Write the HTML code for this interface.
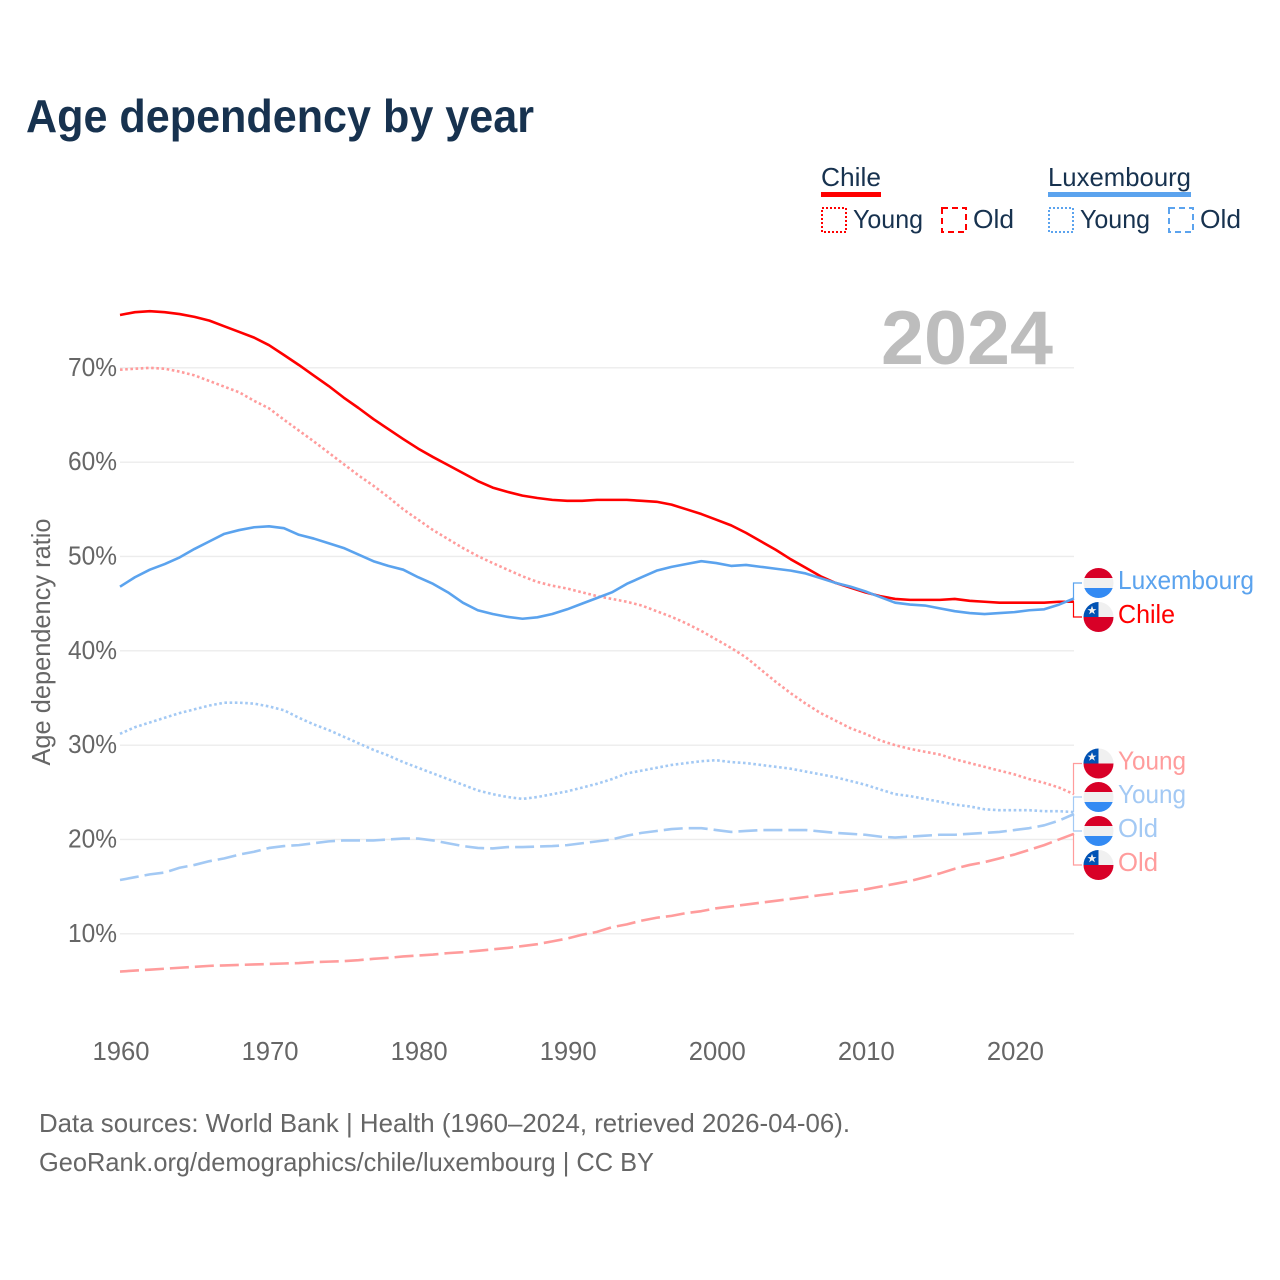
<!DOCTYPE html>
<html lang="en">
<head>
<meta charset="utf-8">
<title>Age dependency by year</title>
<style>
html,body{margin:0;padding:0;background:#fff}
svg{display:block}
text{font-family:"Liberation Sans",sans-serif}
</style>
</head>
<body>
<svg id="chart" xmlns="http://www.w3.org/2000/svg" width="1280" height="1280" viewBox="0 0 1280 1280">
  <rect x="0" y="0" width="1280" height="1280" fill="#ffffff"/>
  <text x="26" y="132" font-size="46" font-weight="700" fill="#17324f" textLength="508" lengthAdjust="spacingAndGlyphs">Age dependency by year</text>

  <g>
    <text x="821" y="186" font-size="26" fill="#17324f" textLength="60" lengthAdjust="spacingAndGlyphs">Chile</text>
    <rect x="821" y="192" width="60" height="5" fill="#ff0000"/>
    <rect x="822" y="208" width="24" height="24" fill="none" stroke="#ff0000" stroke-width="2" stroke-dasharray="2 2"/>
    <text x="853" y="228" font-size="26" fill="#17324f" textLength="70" lengthAdjust="spacingAndGlyphs">Young</text>
    <rect x="942" y="208" width="24" height="24" fill="none" stroke="#ff0000" stroke-width="2" stroke-dasharray="6 4"/>
    <text x="973" y="228" font-size="26" fill="#17324f" textLength="41" lengthAdjust="spacingAndGlyphs">Old</text>

    <text x="1048" y="186" font-size="26" fill="#17324f" textLength="143" lengthAdjust="spacingAndGlyphs">Luxembourg</text>
    <rect x="1048" y="192" width="143" height="5" fill="#5ba3ee"/>
    <rect x="1049" y="208" width="24" height="24" fill="none" stroke="#5ba3ee" stroke-width="2" stroke-dasharray="2 2"/>
    <text x="1080" y="228" font-size="26" fill="#17324f" textLength="70" lengthAdjust="spacingAndGlyphs">Young</text>
    <rect x="1169" y="208" width="24" height="24" fill="none" stroke="#5ba3ee" stroke-width="2" stroke-dasharray="6 4"/>
    <text x="1200" y="228" font-size="26" fill="#17324f" textLength="41" lengthAdjust="spacingAndGlyphs">Old</text>
  </g>

  <text transform="translate(50 642) rotate(-90)" text-anchor="middle" font-size="26" fill="#666666" textLength="247" lengthAdjust="spacingAndGlyphs">Age dependency ratio</text>

  <g id="grid"></g>
  <g id="yticks"></g>
  <g id="xticks"></g>
  <text id="year" x="1053" y="364" text-anchor="end" font-size="76" font-weight="700" fill="#bdbdbd" textLength="172" lengthAdjust="spacingAndGlyphs"></text>
  <g id="series"></g>
  <g id="connectors"></g>
  <g id="labels"></g>

  <text x="39" y="1132" font-size="26" fill="#666666" textLength="811" lengthAdjust="spacingAndGlyphs">Data sources: World Bank | Health (1960–2024, retrieved 2026-04-06).</text>
  <text x="39" y="1171" font-size="26" fill="#666666" textLength="615" lengthAdjust="spacingAndGlyphs">GeoRank.org/demographics/chile/luxembourg | CC BY</text>
</svg>
<script>
const startYear = 1960;
const endYear = 2024;
const yTicks = [10, 20, 30, 40, 50, 60, 70];
const xTicks = [1960, 1970, 1980, 1990, 2000, 2010, 2020];
const yearLabel = "2024";

const chileTotal = [75.6,75.9,76.0,75.9,75.7,75.4,75.0,74.4,73.8,73.2,72.4,71.36,70.3,69.18,68.07,66.85,65.74,64.57,63.51,62.45,61.44,60.54,59.7,58.85,58.0,57.3,56.85,56.45,56.2,56.0,55.9,55.9,56.0,56.0,56.0,55.9,55.8,55.5,55.0,54.5,53.9,53.3,52.5,51.6,50.7,49.7,48.8,47.9,47.2,46.7,46.2,45.8,45.5,45.4,45.4,45.4,45.5,45.3,45.2,45.1,45.1,45.1,45.1,45.2,45.2];
const chileYoung = [69.8,69.9,70.0,69.9,69.6,69.2,68.6,68.0,67.4,66.5,65.7,64.5,63.35,62.2,61.0,59.8,58.6,57.5,56.3,55.0,53.9,52.8,51.85,50.9,50.05,49.3,48.6,47.9,47.3,46.9,46.6,46.2,45.8,45.5,45.2,44.8,44.2,43.6,42.9,42.1,41.2,40.3,39.3,38.0,36.7,35.5,34.4,33.4,32.6,31.8,31.2,30.5,30.0,29.6,29.3,29.0,28.5,28.1,27.7,27.3,26.9,26.4,26.0,25.5,24.8];
const chileOld = [6.0,6.1,6.2,6.3,6.4,6.5,6.6,6.65,6.7,6.75,6.8,6.85,6.9,7.0,7.05,7.1,7.2,7.35,7.45,7.6,7.7,7.8,7.95,8.05,8.2,8.35,8.5,8.7,8.9,9.2,9.5,9.9,10.2,10.7,11.0,11.4,11.7,11.9,12.2,12.4,12.7,12.9,13.1,13.3,13.5,13.7,13.9,14.1,14.3,14.5,14.7,15.0,15.3,15.6,16.0,16.4,16.9,17.3,17.6,18.0,18.4,18.9,19.4,20.0,20.6];
const luxTotal = [46.8,47.8,48.6,49.2,49.9,50.8,51.6,52.4,52.8,53.1,53.2,53.0,52.3,51.9,51.4,50.9,50.2,49.5,49.0,48.6,47.8,47.1,46.2,45.1,44.3,43.9,43.6,43.4,43.55,43.9,44.4,45.0,45.6,46.2,47.1,47.8,48.5,48.9,49.2,49.5,49.3,49.0,49.1,48.9,48.7,48.5,48.2,47.7,47.2,46.8,46.3,45.7,45.1,44.9,44.8,44.5,44.2,44.0,43.9,44.0,44.1,44.3,44.4,44.9,45.55];
const luxYoung = [31.2,31.9,32.4,32.9,33.4,33.8,34.2,34.5,34.5,34.4,34.1,33.7,32.9,32.2,31.6,30.9,30.2,29.5,28.9,28.2,27.6,27.0,26.4,25.8,25.2,24.8,24.5,24.3,24.5,24.8,25.1,25.5,25.9,26.4,27.0,27.3,27.6,27.9,28.1,28.3,28.4,28.2,28.1,27.9,27.7,27.5,27.2,26.9,26.6,26.2,25.8,25.3,24.8,24.6,24.3,24.0,23.7,23.5,23.2,23.1,23.1,23.1,23.0,23.0,22.9];
const luxOld = [15.7,16.0,16.3,16.5,17.0,17.3,17.7,18.0,18.4,18.7,19.1,19.3,19.4,19.6,19.8,19.9,19.9,19.9,20.0,20.1,20.1,19.9,19.6,19.3,19.1,19.05,19.2,19.2,19.25,19.3,19.4,19.6,19.8,20.0,20.4,20.7,20.9,21.1,21.2,21.2,21.0,20.8,20.9,21.0,21.0,21.0,21.0,20.85,20.7,20.6,20.5,20.3,20.2,20.3,20.4,20.5,20.5,20.6,20.7,20.8,21.0,21.2,21.5,22.0,22.7];

const NS = "http://www.w3.org/2000/svg";
function xScale(year) { return 120 + (year - startYear) * (954 / (endYear - startYear)); }
function yScale(value) { return 933.8 - (value - 10) * 9.433; }
function make(tag, attrs, parent) {
  const el = document.createElementNS(NS, tag);
  for (const k in attrs) el.setAttribute(k, attrs[k]);
  parent.appendChild(el);
  return el;
}

const gridG = document.getElementById("grid");
const yTickG = document.getElementById("yticks");
const xTickG = document.getElementById("xticks");
yTicks.forEach(function (t) {
  const line = make("line", {x1: 120, x2: 1074, y1: yScale(t), y2: yScale(t), stroke: "#ececec", "stroke-width": 1.4}, gridG);
  
  
  const label = make("text", {x: 117, y: yScale(t) + 8, "text-anchor": "end", "font-size": 26, fill: "#666666", textLength: 49, lengthAdjust: "spacingAndGlyphs"}, yTickG);
  label.textContent = t + "%";
  
  
});
xTicks.forEach(function (t) {
  const label = make("text", {x: xScale(t) + 1, y: 1060, "text-anchor": "middle", "font-size": 26, fill: "#666666", textLength: 57, lengthAdjust: "spacingAndGlyphs"}, xTickG);
  label.textContent = String(t);
  
  
});
document.getElementById("year").textContent = yearLabel;

const seriesG = document.getElementById("series");
function drawLine(values, color, dash, name) {
  const pts = values.map(function (v, i) { return xScale(startYear + i).toFixed(2) + "," + yScale(v).toFixed(2); }).join(" ");
  const attrs = {points: pts, fill: "none", stroke: color, "stroke-width": 2.6, "stroke-linejoin": "round"};
  if (dash) attrs["stroke-dasharray"] = dash;
  const line = make("polyline", attrs, seriesG);
  
  
}
drawLine(chileOld, "#ff9c9c", "19 6", "line-chile-old");
drawLine(chileYoung, "#ff9c9c", "2.6 2.6", "line-chile-young");
drawLine(luxOld, "#a3c9f4", "19 6", "line-luxembourg-old");
drawLine(luxYoung, "#a3c9f4", "2.6 2.6", "line-luxembourg-young");
drawLine(chileTotal, "#ff0000", null, "line-chile-total");
drawLine(luxTotal, "#5ba3ee", null, "line-luxembourg-total");

const connG = document.getElementById("connectors");
const labelG = document.getElementById("labels");
function drawFlag(country, cy, idx) {
  const cx = 1098.5;
  const clipId = "flag-clip-" + idx;
  const defs = make("defs", {}, labelG);
  const cp = make("clipPath", {id: clipId}, defs);
  make("circle", {cx: cx, cy: cy, r: 15}, cp);
  const g = make("g", {"clip-path": "url(#" + clipId + ")"}, labelG);
  
  
  if (country === "chile") {
    make("rect", {x: cx - 15, y: cy - 15, width: 30, height: 15, fill: "#f0f0f0"}, g);
    make("rect", {x: cx - 15, y: cy - 15, width: 15, height: 15, fill: "#0052b4"}, g);
    make("rect", {x: cx - 15, y: cy, width: 30, height: 15, fill: "#d80027"}, g);
    const s = cx - 6.5, t = cy - 6.5;
    make("polygon", {points: [[0,-4.7],[1.2,-1.4],[4.5,-1.4],[1.8,0.5],[2.9,3.8],[0,1.8],[-2.9,3.8],[-1.8,0.5],[-4.5,-1.4],[-1.2,-1.4]].map(function (p) { return (s + p[0]) + "," + (t + p[1]); }).join(" "), fill: "#f0f0f0"}, g);
  } else {
    make("rect", {x: cx - 15, y: cy - 15, width: 30, height: 10, fill: "#d80027"}, g);
    make("rect", {x: cx - 15, y: cy - 5, width: 30, height: 10, fill: "#f0f0f0"}, g);
    make("rect", {x: cx - 15, y: cy + 5, width: 30, height: 10, fill: "#338af3"}, g);
  }
}
function drawEnd(country, text, color, values, labelY, width, idx, name) {
  const y0 = yScale(values[values.length - 1]);
  const path = make("path", {d: "M1073.5 " + y0.toFixed(2) + "V" + labelY + "H1082", fill: "none", stroke: color, "stroke-width": 1.2}, connG);
  
  
  drawFlag(country, labelY, idx);
  const label = make("text", {x: 1118, y: labelY + 6, "font-size": 26, fill: color, textLength: width, lengthAdjust: "spacingAndGlyphs"}, labelG);
  label.textContent = text;
  
  
}
drawEnd("luxembourg", "Luxembourg", "#5ba3ee", luxTotal, 583, 136, 0, "luxembourg");
drawEnd("chile", "Chile", "#ff0000", chileTotal, 617, 57, 1, "chile");
drawEnd("chile", "Young", "#ff9c9c", chileYoung, 763.5, 68, 2, "chile-young");
drawEnd("luxembourg", "Young", "#a3c9f4", luxYoung, 797, 68, 3, "luxembourg-young");
drawEnd("luxembourg", "Old", "#a3c9f4", luxOld, 831, 40, 4, "luxembourg-old");
drawEnd("chile", "Old", "#ff9c9c", chileOld, 865, 40, 5, "chile-old");
</script>
</body>
</html>
